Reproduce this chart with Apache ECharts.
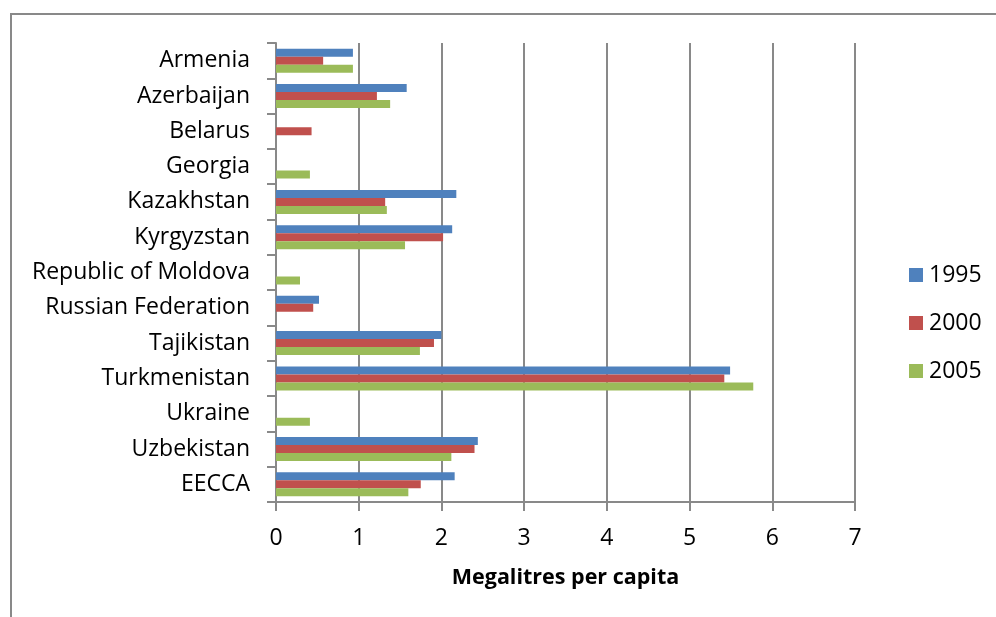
<!DOCTYPE html>
<html>
<head>
<meta charset="utf-8">
<script src="https://cdn.jsdelivr.net/npm/echarts@6/dist/echarts.min.js"></script>
<style>
  html, body { margin: 0; padding: 0; background: #fff; }
  #chart { width: 996px; height: 617px; }
</style>
</head>
<body>
<div id="chart"></div>
<script>
// Countries, top to bottom
const countries = ['Armenia', 'Azerbaijan', 'Belarus', 'Georgia', 'Kazakhstan', 'Kyrgyzstan',
  'Republic of Moldova', 'Russian Federation', 'Tajikistan', 'Turkmenistan', 'Ukraine',
  'Uzbekistan', 'EECCA'];

// Water withdrawal, megalitres per capita (null = no data)
const values1995 = [0.93, 1.58, null, null, 2.18, 2.13, null, 0.52, 2.00, 5.49, null, 2.44, 2.16];
const values2000 = [0.57, 1.22, 0.43, null, 1.32, 2.02, null, 0.45, 1.91, 5.42, null, 2.40, 1.75];
const values2005 = [0.93, 1.38, null, 0.41, 1.34, 1.56, 0.29, null, 1.74, 5.77, 0.41, 2.12, 1.60];

const seriesNames = ['1995', '2000', '2005'];
const xTicks = [0, 1, 2, 3, 4, 5, 6, 7];

const FONT = '"Open Sans", "Liberation Sans", sans-serif';
const GREY = '#898989';

const chart = echarts.init(document.getElementById('chart'), null, { renderer: 'canvas' });

chart.setOption({
  backgroundColor: '#ffffff',
  animation: false,
  textStyle: { fontFamily: FONT, color: '#000' },
  graphic: [{
    type: 'rect',
    shape: { x: 11, y: 14, width: 1100, height: 800 },
    style: { fill: 'none', stroke: GREY, lineWidth: 2 },
    silent: true,
    z: -10
  }],
  grid: { left: 276, right: 141, top: 43, bottom: 115, containLabel: false },
  legend: {
    orient: 'vertical',
    left: 904,
    top: 258,
    itemWidth: 14,
    itemHeight: 14,
    itemGap: 24,
    icon: 'rect',
    data: seriesNames,
    textStyle: { fontFamily: FONT, fontSize: 23, color: '#000', lineHeight: 24, padding: [0, 0, 0, 1] }
  },
  xAxis: {
    type: 'value',
    min: xTicks[0],
    max: xTicks[xTicks.length - 1],
    interval: 1,
    name: 'Megalitres per capita',
    nameLocation: 'middle',
    nameGap: 65,
    nameTextStyle: { fontFamily: FONT, fontSize: 21.5, fontWeight: 'bold', color: '#000' },
    axisLine: { show: true, lineStyle: { color: GREY, width: 2 } },
    axisTick: { show: true, length: 9, lineStyle: { color: GREY, width: 2 } },
    axisLabel: { fontFamily: FONT, fontSize: 23, color: '#000', margin: 25 },
    splitLine: { show: true, lineStyle: { color: GREY, width: 2 } }
  },
  yAxis: {
    type: 'category',
    data: countries,
    inverse: true,
    axisLine: { show: true, lineStyle: { color: GREY, width: 2 } },
    axisTick: { show: true, length: 9, lineStyle: { color: GREY, width: 2 } },
    axisLabel: { fontFamily: FONT, fontSize: 23, color: '#000', margin: 26, padding: [5, 0, 0, 0] },
    splitLine: { show: false }
  },
  series: [
    { name: seriesNames[0], type: 'bar', data: values1995, itemStyle: { color: '#4F81BD' }, barGap: '0%', barCategoryGap: '32%' },
    { name: seriesNames[1], type: 'bar', data: values2000, itemStyle: { color: '#C0504D' }, barGap: '0%', barCategoryGap: '32%' },
    { name: seriesNames[2], type: 'bar', data: values2005, itemStyle: { color: '#9BBB59' }, barGap: '0%', barCategoryGap: '32%' }
  ]
});
</script>
</body>
</html>
